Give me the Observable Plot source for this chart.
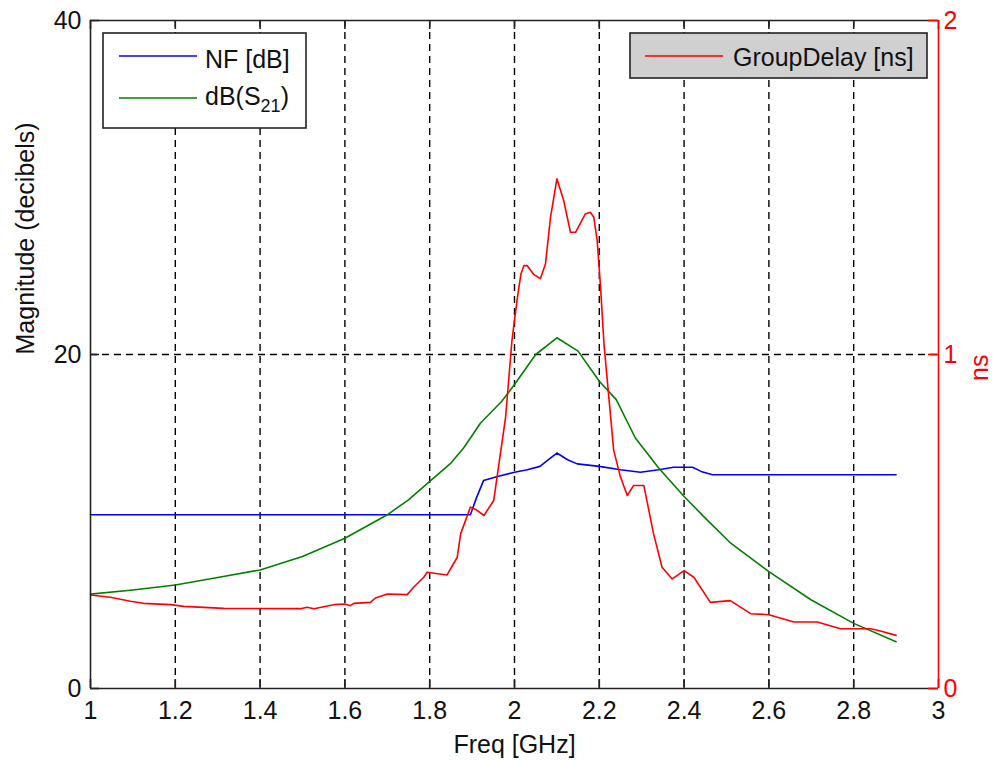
<!DOCTYPE html>
<html><head><meta charset="utf-8">
<script src="https://cdn.jsdelivr.net/npm/d3@7"></script>
<script src="https://cdn.jsdelivr.net/npm/@observablehq/plot@0.6"></script>
<style>
html,body{margin:0;padding:0;background:#fff;}
#chart{width:997px;height:761px;}
</style></head><body><div id="chart"></div>
<script>
// ---- data ----
const xTicks = [1, 1.2, 1.4, 1.6, 1.8, 2, 2.2, 2.4, 2.6, 2.8, 3];
const yTicks = [0, 20, 40];
const nsTicks = [0, 1, 2];

const nfFreq = [1.0,1.896,1.91,1.927,1.96,2.0,2.03,2.06,2.08,2.1,2.125,2.148,2.2,2.25,2.297,2.34,2.375,2.42,2.44,2.467,2.9];
const nfDb   = [10.4,10.4,11.4,12.45,12.7,12.95,13.1,13.3,13.7,14.1,13.7,13.45,13.3,13.1,12.95,13.1,13.25,13.25,13.0,12.8,12.8];

const s21Freq = [1.0,1.1,1.2,1.3,1.4,1.5,1.6,1.7,1.75,1.8,1.85,1.88,1.92,1.97,2.0,2.05,2.1,2.15,2.2,2.24,2.285,2.34,2.4,2.45,2.51,2.6,2.7,2.8,2.9];
const s21Db   = [5.65,5.9,6.2,6.65,7.1,7.9,9.0,10.4,11.3,12.4,13.5,14.4,15.9,17.2,18.2,20.0,21.0,20.2,18.4,17.3,15.0,13.2,11.5,10.2,8.7,7.0,5.3,3.9,2.8];

const gdFreq = [1.0,1.047,1.094,1.125,1.189,1.22,1.314,1.495,1.511,1.527,1.55,1.574,1.6,1.613,1.621,1.66,1.672,1.70,1.747,1.762,1.786,1.794,1.841,1.865,1.873,1.896,1.91,1.928,1.951,1.979,1.994,2.006,2.015,2.022,2.03,2.045,2.061,2.073,2.085,2.10,2.116,2.132,2.144,2.167,2.179,2.187,2.195,2.203,2.211,2.223,2.234,2.25,2.266,2.281,2.305,2.328,2.348,2.372,2.4,2.423,2.462,2.509,2.557,2.6,2.659,2.714,2.769,2.84,2.863,2.9];
const gdNs   = [0.28,0.273,0.261,0.255,0.251,0.246,0.24,0.239,0.243,0.239,0.245,0.251,0.253,0.248,0.255,0.258,0.271,0.283,0.281,0.303,0.333,0.348,0.34,0.393,0.463,0.543,0.535,0.518,0.563,0.812,1.042,1.162,1.24,1.266,1.266,1.24,1.227,1.271,1.411,1.526,1.461,1.366,1.366,1.421,1.426,1.411,1.341,1.201,1.032,0.865,0.713,0.633,0.578,0.608,0.608,0.463,0.363,0.328,0.353,0.333,0.258,0.263,0.224,0.221,0.199,0.199,0.179,0.179,0.172,0.159];

// ---- layout ----
const W = 997, H = 761, mL = 90, mR = 59, mT = 20, mB = 73;
const pw = W - mL - mR, ph = H - mT - mB;
const yMax = 40, nsMax = 2, nsToDb = yMax / nsMax;
const FONT = "'Liberation Sans', Arial, Helvetica, sans-serif";

const nfRows = nfFreq.map((f, i) => ({f, v: nfDb[i]}));
const s21Rows = s21Freq.map((f, i) => ({f, v: s21Db[i]}));
const gdRows = gdFreq.map((f, i) => ({f, v: gdNs[i] * nsToDb}));
const gridX = xTicks.filter(d => d > 1 && d < 3);
const gridY = yTicks.filter(d => d > 0 && d < yMax);

const svg = Plot.plot({
  width: W, height: H,
  marginLeft: mL, marginRight: mR, marginTop: mT, marginBottom: mB,
  style: {fontFamily: FONT, fontSize: "25px", background: "white", overflow: "visible"},
  x: {domain: [1, 3]},
  y: {domain: [0, yMax]},
  marks: [
    Plot.ruleX(gridX, {stroke: "black", strokeWidth: 1.4, strokeDasharray: "7,5"}),
    Plot.ruleY(gridY, {stroke: "black", strokeWidth: 1.4, strokeDasharray: "7,5"}),
    Plot.line(nfRows, {x: "f", y: "v", stroke: "#0000ff", strokeWidth: 1.6}),
    Plot.line(s21Rows, {x: "f", y: "v", stroke: "#008000", strokeWidth: 1.6}),
    Plot.line(gdRows, {x: "f", y: "v", stroke: "#ff0000", strokeWidth: 1.6}),
    // frame
    Plot.ruleY([0, yMax], {stroke: "#222", strokeWidth: 1.6}),
    Plot.ruleX([1], {stroke: "#222", strokeWidth: 1.6}),
    // inward ticks
    Plot.ruleX(xTicks, {stroke: "#222", strokeWidth: 1.6, insetTop: ph - 9}),
    Plot.ruleX(xTicks, {stroke: "#222", strokeWidth: 1.6, insetBottom: ph - 9}),
    Plot.ruleY(yTicks, {stroke: "#222", strokeWidth: 1.6, insetRight: pw - 9}),
    Plot.ruleY(nsTicks.map(d => d * nsToDb), {stroke: "#ff0000", strokeWidth: 1.6, insetLeft: pw - 10}),
    Plot.ruleX([3], {stroke: "#ff0000", strokeWidth: 1.6}),
    // tick labels
    Plot.axisX({ticks: xTicks, tickSize: 0, tickPadding: 13, tickFormat: d => String(d), label: null, fill: "#111"}),
    Plot.axisY({ticks: yTicks, tickSize: 0, tickPadding: 9, tickFormat: d => String(d), label: null, fill: "#111"}),
    Plot.axisY({anchor: "right", ticks: nsTicks.map(d => d * nsToDb), tickSize: 0, tickPadding: 5,
                tickFormat: d => String(d / nsToDb), label: null, fill: "#ff0000"}),
    // axis titles
    Plot.text(["Freq [GHz]"], {frameAnchor: "bottom", lineAnchor: "middle", dy: 56, fill: "#111"}),
    Plot.text(["Magnitude (decibels)"], {frameAnchor: "left", lineAnchor: "middle", rotate: -90, dx: -65, fill: "#111"}),
    Plot.text(["ns"], {frameAnchor: "right", lineAnchor: "middle", rotate: -90, dx: 41, fill: "#ff0000"})
  ]
});

// ---- legends ----
const s = d3.select(svg);
const lg1 = s.append("g").attr("font-family", FONT).attr("font-size", 25).attr("text-anchor", "start");
lg1.append("rect").attr("x", 103).attr("y", 33).attr("width", 203).attr("height", 95)
  .attr("fill", "white").attr("stroke", "#222").attr("stroke-width", 1.6);
lg1.append("line").attr("x1", 119).attr("x2", 197).attr("y1", 56).attr("y2", 56)
  .attr("stroke", "#0000ff").attr("stroke-width", 1.6);
lg1.append("text").attr("x", 205).attr("y", 68).attr("fill", "#111").text("NF [dB]");
lg1.append("line").attr("x1", 119).attr("x2", 197).attr("y1", 98).attr("y2", 98)
  .attr("stroke", "#008000").attr("stroke-width", 1.6);
const t2 = lg1.append("text").attr("x", 205).attr("y", 105).attr("fill", "#111");
t2.append("tspan").text("dB(S");
t2.append("tspan").attr("font-size", 18).attr("dy", 7).text("21");
t2.append("tspan").attr("dy", -7).text(")");

const lg2 = s.append("g").attr("font-family", FONT).attr("font-size", 25).attr("text-anchor", "start");
lg2.append("rect").attr("x", 630).attr("y", 33).attr("width", 297).attr("height", 45)
  .attr("fill", "#d0d0d0").attr("stroke", "#222").attr("stroke-width", 1.6);
lg2.append("line").attr("x1", 645).attr("x2", 723).attr("y1", 56).attr("y2", 56)
  .attr("stroke", "#ff0000").attr("stroke-width", 1.6);
lg2.append("text").attr("x", 733).attr("y", 66).attr("fill", "#111").text("GroupDelay [ns]");

document.getElementById("chart").appendChild(svg);
</script></body></html>
